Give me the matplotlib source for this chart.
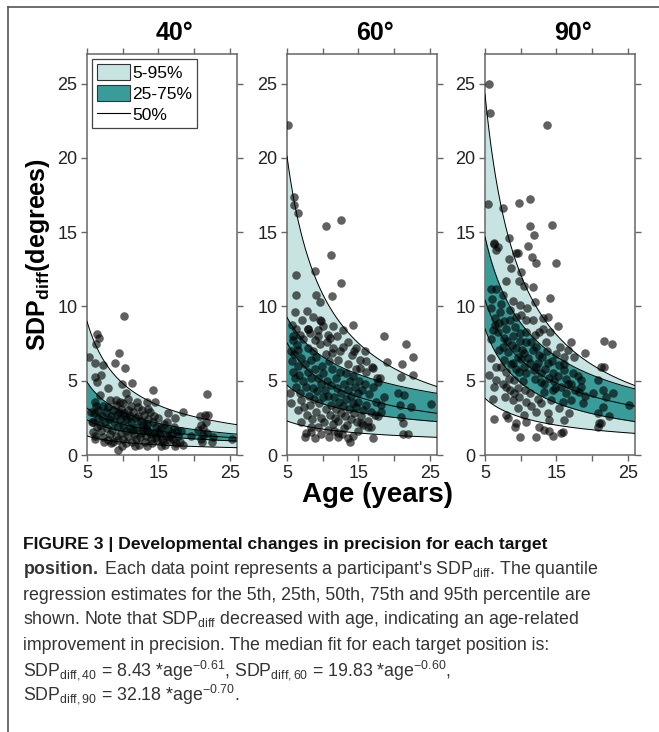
import numpy as np
import matplotlib.pyplot as plt
from matplotlib.patches import Patch
from matplotlib.lines import Line2D

plt.rcParams['font.family'] = ['Liberation Sans', 'DejaVu Sans']
plt.rcParams['mathtext.fontset'] = 'custom'
plt.rcParams['mathtext.rm'] = 'Liberation Sans'
plt.rcParams['mathtext.it'] = 'Liberation Sans:italic'
plt.rcParams['mathtext.bf'] = 'Liberation Sans:bold'

# panel titles (target position)
positions = ['40', '60', '90']

# quantile fits y = a * age^b for the 5th, 25th, 50th, 75th, 95th percentile
scale_40 = [3.26, 5.81, 8.43, 16.7, 38.3]
expo_40 = [-0.58, -0.56, -0.61, -0.76, -0.90]
scale_60 = [4.34, 9.65, 19.83, 20.3, 84.8]
expo_60 = [-0.397, -0.447, -0.60, -0.487, -0.894]
scale_90 = [9.77, 31.1, 32.18, 47.2, 121.5]
expo_90 = [-0.584, -0.806, -0.70, -0.725, -1.0]

# participants, 40 deg
age_40 = [10.2, 6.4, 6.7, 6.3, 5.3, 9.5, 8.9, 10.3, 6.1, 7.3, 6.1, 7.0, 6.4, 11.3, 9.9, 14.3,
          21.8, 8.0, 10.4, 6.8, 6.1, 10.8, 9.6, 8.2, 13.4, 14.5, 18.4, 16.3, 17.3, 21.5, 20.8,
          21.6, 21.3, 21.3, 21.1, 25.3, 22.7, 9.3, 5.9, 6.1, 5.7,
          7.2, 7.6, 7.9, 8.3, 8.6, 8.8, 9.0, 9.2, 9.4, 9.6, 9.8, 10.0, 10.2, 10.4, 10.6, 10.8,
          11.0, 11.2, 11.4, 11.6, 11.8, 12.0, 12.2, 12.4, 12.6, 12.8, 13.0, 13.2, 13.4, 13.6,
          13.8, 14.0, 14.2, 14.4, 14.6, 14.8, 15.0, 15.2, 15.4, 15.6, 15.8, 16.0, 16.3, 16.6,
          16.9, 17.2, 17.5, 17.8, 18.1, 18.4,
          6.0, 6.2, 6.5, 6.8, 7.0, 7.3, 7.5, 7.8, 8.0, 8.2, 8.5, 8.7, 9.0, 9.3, 9.5, 9.7, 10.0,
          10.3, 10.5, 10.7, 11.0, 11.3, 11.5, 11.8, 12.1, 12.3, 12.5, 12.8, 13.1, 13.3, 13.6,
          13.9, 14.1, 14.4, 14.7, 15.1, 15.5, 15.9, 16.2, 16.5, 17.0, 17.6, 18.0, 19.5, 20.5,
          20.9, 21.8, 22.0, 21.0, 6.4, 7.1, 8.1, 9.1, 10.1, 11.1, 12.0, 12.7, 13.5, 6.6, 5.5,
          5.8, 6.1, 7.4, 8.4, 9.9, 11.7, 13.4, 15.3, 17.3, 22.5]
val_40 = [9.33, 8.18, 7.9, 7.5, 6.6, 6.84, 6.2, 5.83, 6.17, 6.05, 5.27, 5.38, 4.93, 4.82, 4.75,
          4.35, 4.08, 4.48, 4.2, 4.04, 3.6, 3.8, 3.6, 3.7, 3.54, 3.54, 2.87, 2.8, 2.47, 2.7,
          2.65, 2.24, 1.84, 1.35, 0.9, 1.08, 1.23, 0.34, 1.57, 1.08, 2.24,
          3.3, 2.9, 3.2, 2.6, 3.0, 2.2, 3.4, 2.7, 1.9, 2.4, 3.1, 2.0, 2.8, 1.6, 2.4, 3.0,
          1.8, 2.2, 2.9, 1.4, 2.5, 1.9, 3.2, 1.2, 2.3, 1.7, 2.7, 1.3, 2.0, 1.6,
          2.9, 1.1, 2.2, 1.5, 1.9, 1.0, 2.5, 1.4, 1.8, 0.9, 2.1, 1.3, 1.7, 1.0,
          1.5, 1.9, 0.8, 1.3, 1.6, 0.7,
          2.8, 3.3, 2.5, 2.0, 1.6, 1.2, 2.2, 1.8, 1.0, 1.4, 1.7, 0.9, 1.3, 1.0, 2.9, 1.5, 1.1,
          2.6, 0.8, 1.3, 2.6, 0.9, 1.7, 1.1, 2.6, 0.7, 1.5, 2.1, 0.9, 1.8, 2.4,
          1.4, 0.8, 2.6, 1.2, 1.6, 1.1, 0.7, 2.2, 1.2, 1.1, 1.6, 0.9, 1.3, 1.7,
          2.0, 1.5, 2.7, 1.1, 1.9, 2.6, 2.4, 3.7, 3.5, 3.3, 3.6, 3.0, 3.1, 3.0, 2.9,
          2.2, 1.3, 0.9, 0.8, 0.6, 0.6, 0.6, 0.6, 0.6, 0.9]

# participants, 60 deg
age_60 = [5.2, 6.0, 6.0, 6.6, 10.4, 12.6, 11.1, 12.6, 6.2, 8.9, 6.2, 9.1, 11.25, 9.6, 6.1,
          7.75, 9.6, 9.75, 11.5, 14.2, 8.0, 9.4, 8.2, 6.8, 10.8, 12.9, 8.9, 18.6, 21.7, 22.7,
          21.1, 5.65, 5.9, 6.6, 19.0, 21.0, 22.7, 25.2, 20.6, 21.4, 20.8, 22.4, 21.0, 21.3,
          21.3, 21.9, 17.1, 13.8, 13.6, 12.2, 7.5, 8.9, 8.4, 15.4, 16.7, 17.3, 18.2, 17.1,
          18.0, 16.0, 15.2, 14.4, 15.2, 15.9,
          5.5, 5.7, 5.8, 6.0, 6.1, 6.3, 6.4, 6.5, 6.7, 6.8, 6.9, 7.0, 7.2, 7.3, 7.4, 7.5, 7.6,
          7.8, 7.9, 8.0, 8.1, 8.2, 8.3, 8.4, 8.5, 8.6, 8.7, 8.8, 8.9, 9.0, 9.1, 9.2, 9.3, 9.4,
          9.5, 9.6, 9.7, 9.8, 9.9, 10.0, 10.1, 10.2, 10.3, 10.4, 10.5, 10.6, 10.7, 10.8, 10.9,
          11.0, 11.1, 11.2, 11.3, 11.4, 11.5, 11.6, 11.7, 11.8, 11.9, 12.0, 12.1, 12.2, 12.3,
          12.4, 12.5, 12.6, 12.7, 12.8, 12.9, 13.0, 13.1, 13.2, 13.3, 13.4, 13.5, 13.6, 13.7,
          13.8, 13.9, 14.0, 14.1, 14.2, 14.3, 14.4, 14.5, 14.6, 14.7, 14.8, 14.9, 15.0, 15.1,
          15.3, 15.5, 15.7, 15.9, 16.1, 16.3, 16.5, 16.8, 17.0, 17.4, 17.8, 18.2, 18.6, 6.2,
          7.1, 8.0, 8.6, 9.4, 10.1, 11.0, 12.0, 13.5, 14.6, 12.4, 11.3, 10.6, 6.6, 7.0, 7.7,
          8.3, 9.7, 10.9, 11.6, 12.2, 13.0, 14.2, 15.0, 15.6, 16.4, 17.7, 5.4, 5.6, 5.9, 16.0,
          16.9, 17.6]
val_60 = [22.2, 17.4, 16.8, 16.3, 15.4, 15.8, 13.5, 11.6, 12.1, 12.4, 10.8, 10.8, 10.7, 10.3,
          9.6, 9.7, 9.1, 9.0, 8.7, 8.76, 8.5, 8.4, 8.2, 8.1, 8.1, 8.4, 7.75, 8.0, 7.46, 6.63,
          6.13, 8.76, 7.75, 7.1, 6.25, 5.28, 5.4, 3.44, 4.16, 4.05, 3.37, 3.26, 2.58, 2.13,
          1.42, 1.39, 1.12, 0.85, 1.12, 1.5, 1.24, 1.12, 1.57, 2.13, 1.91, 2.7, 3.37, 5.84,
          5.17, 5.62, 5.84, 6.97, 6.4, 6.97,
          7.0, 6.3, 5.6, 6.8, 5.2, 4.6, 7.4, 6.0, 5.4, 4.2, 3.7, 6.5, 7.8, 5.0, 3.2, 6.1, 4.6,
          2.7, 5.6, 7.2, 4.0, 3.4, 6.4, 5.2, 2.4, 4.5, 7.0, 3.8, 5.8, 2.9, 6.6, 4.3, 1.9, 5.2,
          3.5, 7.5, 4.8, 2.5, 6.0, 3.9, 5.5, 2.2, 4.4, 6.8, 3.1, 5.0, 1.7, 4.0, 6.3,
          2.7, 4.7, 3.4, 5.8, 2.1, 7.2, 3.9, 2.5, 5.2, 3.1, 4.5, 6.4, 2.3, 3.6,
          5.6, 2.8, 4.2, 1.4, 3.3, 7.3, 4.8, 2.6, 5.5, 3.8, 2.0, 4.4, 6.1, 3.1,
          5.0, 2.4, 4.0, 6.7, 3.5, 5.3, 2.8, 4.6, 3.2, 5.8, 2.2, 4.2, 3.6, 5.0,
          2.6, 4.4, 3.0, 4.8, 3.4, 1.9, 4.1, 2.9, 4.6, 3.6, 4.9, 2.9, 3.9, 8.5,
          9.1, 8.5, 9.3, 8.0, 8.7, 7.9, 8.0, 7.6, 7.2, 7.0, 6.9, 7.6, 3.0, 2.2, 1.5,
          1.9, 1.4, 1.2, 1.6, 1.2, 1.8, 1.3, 1.6, 2.0, 2.3, 2.6, 4.2, 3.5, 8.0, 6.3,
          5.9, 5.2]

# participants, 90 deg
age_90 = [5.6, 5.65, 13.7, 5.4, 7.5, 9.8, 11.25, 11.3, 11.8, 14.4, 8.3, 6.2, 11.05,
          6.26, 6.6, 6.8, 9.3, 9.6, 11.6, 12.2, 15.0, 8.4, 8.7, 10.0, 8.0, 9.75, 11.7, 10.5,
          5.9, 6.6, 7.5, 14.1, 8.9, 9.85, 11.95, 5.9, 7.05, 8.45, 9.4, 10.7, 11.7, 13.1, 13.8,
          15.2, 13.1, 6.35, 6.1, 6.8, 8.0, 8.9, 9.85, 10.8, 11.95, 14.05, 21.7, 22.8, 17.1,
          19.0, 16.6, 17.5, 15.0, 16.0, 21.3, 21.7, 7.5, 8.2, 9.4, 10.5, 11.7, 12.6,
          5.9, 7.6, 8.9, 10.1, 11.25, 12.2, 13.8, 15.4, 8.0, 9.4, 10.8, 12.9, 14.5, 16.1, 17.3,
          6.6, 7.5, 9.1, 10.3, 11.95, 13.3, 14.7, 16.6, 18.5, 20.8, 21.5, 22.9, 25.2, 22.0,
          8.45, 9.6, 11.25, 13.3, 14.5, 16.4, 18.2, 20.1, 6.1, 7.75, 8.9, 10.8, 12.4, 14.3,
          15.9, 18.7, 17.1, 21.5, 20.8, 22.4, 21.3, 9.6, 10.5, 12.2, 13.8, 15.35, 16.8, 8.2,
          9.4, 10.8, 12.6, 14.0, 16.1, 6.2, 8.0, 9.15, 13.3, 14.0, 15.9, 14.5, 12.1, 9.85,
          15.7, 20.8, 21.0,
          6.0, 6.4, 7.0, 7.3, 7.7, 8.1, 8.5, 8.8, 9.2, 9.6, 9.9, 10.2, 10.4, 10.7, 11.0, 11.4,
          11.8, 12.1, 12.4, 12.8, 13.0, 13.4, 13.7, 14.0, 14.4, 14.8, 15.2, 15.6, 16.0, 16.4,
          17.0, 17.6, 18.0, 18.4, 19.0, 8.3, 9.0, 9.8, 10.6, 11.5, 12.9, 7.2, 7.9, 6.5, 6.2,
          5.6, 5.8, 6.9, 7.6, 8.6, 9.7, 10.0, 12.6, 10.9, 13.5, 15.5]
val_90 = [25.0, 23.0, 22.2, 16.9, 16.6, 17.0, 17.25, 15.4, 14.8, 15.5, 14.6, 14.2, 14.1,
          14.25, 13.8, 14.0, 13.6, 13.6, 13.3, 12.9, 12.9, 13.2, 12.6, 12.35, 11.7, 11.7, 11.3,
          11.4, 11.2, 11.15, 10.8, 10.6, 10.4, 10.1, 10.3, 9.9, 9.65, 9.75, 9.3, 9.1, 9.1, 9.2,
          9.3, 8.7, 8.5, 8.75, 8.4, 8.3, 8.5, 8.0, 7.7, 7.6, 8.1, 8.3, 7.7, 7.5, 7.6,
          6.85, 7.07, 6.6, 6.8, 6.6, 5.95, 5.95, 7.3, 6.95, 7.2, 6.85, 7.07, 6.7,
          6.5, 6.4, 6.2, 6.45, 6.2, 5.95, 6.2, 6.05, 5.6, 5.8, 5.5, 5.5, 5.5, 5.7, 5.5,
          5.05, 4.8, 5.05, 4.95, 5.15, 4.8, 4.95, 4.8, 5.05, 5.05, 4.4, 4.15, 3.4, 3.9,
          4.4, 4.5, 4.15, 4.25, 4.4, 4.15, 4.25, 4.15, 3.8, 3.9, 3.7, 3.6, 3.8, 3.7,
          3.6, 3.5, 3.7, 3.25, 2.8, 2.6, 2.13, 3.15, 2.7, 2.9, 2.8, 3.15, 2.8, 2.5,
          2.13, 2.25, 1.9, 2.36, 2.36, 2.4, 2.7, 1.9, 1.68, 1.64, 1.57, 1.28, 1.23, 1.19,
          1.46, 1.9, 2.13,
          10.5, 9.2, 8.9, 10.2, 9.0, 7.7, 9.1, 7.4, 8.6, 6.6, 8.2, 7.1, 5.9, 8.3, 6.5, 7.6,
          5.7, 7.3, 6.2, 4.9, 6.6, 5.8, 7.0, 5.2, 6.3, 4.5, 5.3, 4.6, 6.1, 5.1,
          4.8, 4.4, 5.3, 4.6, 4.0, 5.1, 4.2, 3.9, 4.4, 3.3, 3.5, 5.9, 4.6, 5.9, 4.6,
          5.4, 7.8, 7.1, 7.9, 6.1, 5.6, 9.4, 8.3, 9.9, 7.6, 7.3]

ages = [age_40, age_60, age_90]
vals = [val_40, val_60, val_90]
scales = [scale_40, scale_60, scale_90]
expos = [expo_40, expo_60, expo_90]

light = '#c8e4e2'
dark = '#3a9c99'
frame_grey = '#666666'

W, H = 659, 732
fig = plt.figure(figsize=(W / 100, H / 100), dpi=100)

lefts = [87, 287, 485]
age_grid = np.linspace(5, 26, 300)
axes = []
for i in range(3):
    ax = fig.add_axes([lefts[i] / W, 1 - 455 / H, 150 / W, 401 / H])
    axes.append(ax)
    q = [a * age_grid ** b for a, b in zip(scales[i], expos[i])]
    ax.fill_between(age_grid, q[0], q[4], color=light, lw=0, zorder=1)
    ax.fill_between(age_grid, q[1], q[3], color=dark, lw=0, zorder=2)
    for c in q:
        ax.plot(age_grid, c, color='black', lw=0.7, zorder=3)
    ax.scatter(ages[i], vals[i], s=38, color='black', alpha=0.62, lw=0, zorder=4)
    ax.set_xlim(5, 26)
    ax.set_ylim(0, 27)
    ax.set_xticks([5, 10, 15, 20, 25])
    ax.set_xticklabels(['5', '', '15', '', '25'])
    ax.set_yticks([0, 5, 10, 15, 20, 25])
    ax.tick_params(direction='out', top=True, right=True, length=4, width=1,
                   color=frame_grey, labelsize=13, labelcolor='#222222', pad=3)
    for s in ax.spines.values():
        s.set_color(frame_grey)
        s.set_linewidth(1.1)
    fig.text((lefts[i] + 88) / W, 1 - 33 / H, positions[i] + '°', fontsize=18,
             fontweight='bold', ha='center', va='center')

handles = [Patch(facecolor=light, edgecolor='#333333', lw=0.8, label='5-95%'),
           Patch(facecolor=dark, edgecolor='#333333', lw=0.8, label='25-75%'),
           Line2D([], [], color='black', lw=0.8, label='50%')]
leg = axes[0].legend(handles=handles, loc='upper left', fontsize=12.5, fancybox=False,
                     framealpha=1, edgecolor='#444444', borderaxespad=0.3,
                     handlelength=1.85, handleheight=1.0, handletextpad=0.15,
                     labelspacing=0.25, borderpad=0.3)
leg.get_frame().set_linewidth(0.9)

fig.text(38 / W, 1 - 255 / H, r'$\mathbf{SDP_{diff}(degrees)}$', rotation=90,
         fontsize=18, ha='center', va='center')
fig.text(378 / W, 1 - 495 / H, 'Age (years)', fontsize=20, fontweight='bold',
         ha='center', va='center')

# caption
cap_x = 23 / W
cap_kw = dict(fontsize=12.8, color='#333333', ha='left', va='center')
fig.text(cap_x, 1 - 545 / H, 'FIGURE 3 | Developmental changes in precision for each target',
         fontsize=12.6, fontweight='bold', color='#111111', ha='left', va='center')
cap_lines = [
    r"$\mathbf{position.}$ Each data point represents a participant's SDP$_{\rm diff}$. The quantile",
    'regression estimates for the 5th, 25th, 50th, 75th and 95th percentile are',
    r'shown. Note that SDP$_{\rm diff}$ decreased with age, indicating an age-related',
    'improvement in precision. The median fit for each target position is:',
    r'SDP$_{\rm diff,40}$ = 8.43 *age$^{-0.61}$, SDP$_{\rm diff,60}$ = 19.83 *age$^{-0.60}$,',
    r'SDP$_{\rm diff,90}$ = 32.18 *age$^{-0.70}$.',
]
cap_y = [569, 595, 620, 645, 670, 694]
for t, y in zip(cap_lines, cap_y):
    fig.text(cap_x, 1 - y / H, t, **cap_kw)

# page frame (top and left edges)
fig.add_artist(Line2D([8 / W, 1], [1 - 7 / H, 1 - 7 / H], transform=fig.transFigure,
                      color='#555555', lw=1.2))
fig.add_artist(Line2D([8 / W, 8 / W], [0, 1 - 7 / H], transform=fig.transFigure,
                      color='#555555', lw=1.2))

fig.savefig('out.png', dpi=100)
